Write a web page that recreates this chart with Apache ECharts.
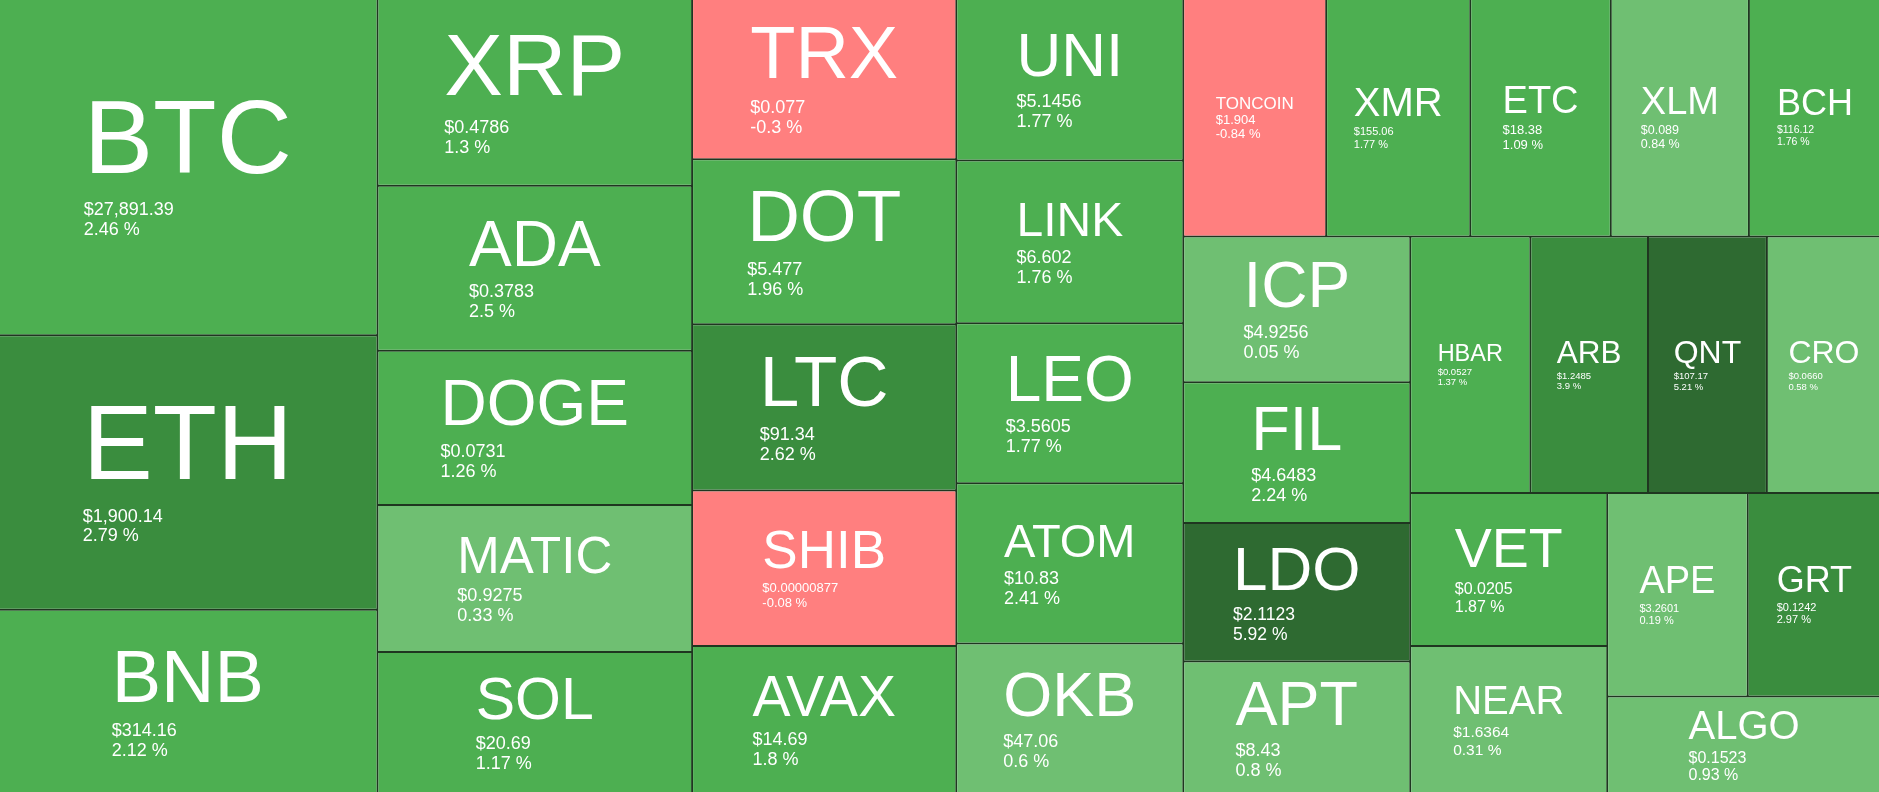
<!DOCTYPE html>
<html>
<head>
<meta charset="utf-8">
<style>
html,body{margin:0;padding:0;background:#fff;overflow:hidden}
#c{width:1879px;height:792px}
</style>
<script src="https://cdn.jsdelivr.net/npm/echarts@6/dist/echarts.min.js"></script>
</head>
<body>
<div id="c"></div>
<script>
// ---- data ----
const symbols = ['BTC','ETH','BNB','XRP','ADA','DOGE','MATIC','SOL','TRX','DOT','LTC','SHIB','AVAX',
  'UNI','LINK','LEO','ATOM','OKB','TONCOIN','XMR','ETC','XLM','BCH','ICP','FIL','LDO','APT',
  'HBAR','ARB','QNT','CRO','VET','NEAR','APE','GRT','ALGO'];
// relative tile weights (estimated from tile areas)
const sizes = [884.8, 720.5, 483.5, 408.7, 358.9, 335.4, 319.6, 309.2, 294.8, 301.4, 303.6, 283.8, 270.6,
  255.2, 255.2, 251.4, 251.4, 236.3, 235.6, 237.6, 231.7, 227.7, 217.8, 228.7, 221.1, 217.4, 207.9,
  213.0, 208.7, 210.9, 202.4, 208.3, 201.7, 197.7, 187.6, 184.7];
const prices = ['27,891.39','1,900.14','314.16','0.4786','0.3783','0.0731','0.9275','20.69','0.077','5.477',
  '91.34','0.00000877','14.69','5.1456','6.602','3.5605','10.83','47.06','1.904','155.06','18.38','0.089',
  '116.12','4.9256','4.6483','2.1123','8.43','0.0527','1.2485','107.17','0.0660','0.0205','1.6364',
  '3.2601','0.1242','0.1523'];
const changes = [2.46, 2.79, 2.12, 1.3, 2.5, 1.26, 0.33, 1.17, -0.3, 1.96, 2.62, -0.08, 1.8,
  1.77, 1.76, 1.77, 2.41, 0.6, -0.84, 1.77, 1.09, 0.84, 1.76, 0.05, 2.24, 5.92, 0.8,
  1.37, 3.9, 5.21, 0.58, 1.87, 0.31, 0.19, 2.97, 0.93];

// ---- styles ----
const FONT = '"Liberation Sans", Arial, Helvetica, sans-serif';
// [symbol font size, price/change font size]
const labelSizes = {
  BTC:[104,18], ETH:[105,18], BNB:[74,18], XRP:[88,18], ADA:[64,18], DOGE:[64,18], MATIC:[51,18],
  SOL:[59,18], TRX:[74,18], DOT:[73,18], LTC:[71,18], SHIB:[53,13], AVAX:[57,18], UNI:[62,18],
  LINK:[48,18], LEO:[64,18], ATOM:[47,18], OKB:[63,18], TONCOIN:[17,13], XMR:[40,11], ETC:[38,13],
  XLM:[38,12.5], BCH:[36,10.5], ICP:[64,18], FIL:[63,18], LDO:[62,17.5], APT:[63,18], HBAR:[23.5,9.5],
  ARB:[31.5,9.5], QNT:[32,9.5], CRO:[32,9.5], VET:[55.5,16], NEAR:[40,15.5], APE:[38,11], GRT:[36,11], ALGO:[40,16]
};
function colorFor(c) {
  if (c < 0) return '#FF7F7F';
  if (c < 1) return '#6FBF72';
  if (c <= 2.5) return '#4DAF51';
  if (c <= 5) return '#3A8D3E';
  return '#2E6A31';
}
const NAME_LH = 1.07, PRICE_LH = 1.11;

const mctx = document.createElement('canvas').getContext('2d');
function textWidth(t, size) {
  mctx.font = 'normal normal ' + size + 'px ' + FONT;
  return mctx.measureText(t).width;
}

function buildData(pads) {
  return symbols.map(function (s, i) {
    const sz = labelSizes[s];
    const nf = sz[0], pf = sz[1];
    const pTxt = '$' + prices[i];
    const cTxt = changes[i] + ' %';
    const nw = textWidth(s, nf);
    const g1 = Math.max(nw - textWidth(pTxt, pf), 0);
    const g2 = Math.max(nw - textWidth(cTxt, pf), 0);
    const label = {
      formatter: '{n|' + s + '}\n{p|' + pTxt + '}{g1| }\n{p|' + cTxt + '}{g2| }',
      rich: {
        n: {fontSize: nf, lineHeight: nf * NAME_LH, fontFamily: FONT, color: '#fff'},
        p: {fontSize: pf, lineHeight: pf * PRICE_LH, fontFamily: FONT, color: '#fff'},
        g1: {width: g1, fontSize: pf, lineHeight: pf * PRICE_LH, fontFamily: FONT},
        g2: {width: g2, fontSize: pf, lineHeight: pf * PRICE_LH, fontFamily: FONT}
      }
    };
    if (pads && pads[s]) label.padding = pads[s];
    return {
      name: s,
      value: sizes[i],
      itemStyle: {color: colorFor(changes[i])},
      label: label
    };
  });
}

const chart = echarts.init(document.getElementById('c'), null, {renderer: 'canvas'});

function makeOption(pads) {
  return {
    animation: false,
    series: [{
      type: 'treemap',
      left: -1, top: -1, width: 1881, height: 794,
      squareRatio: 1.69,
      sort: false,
      roam: false,
      nodeClick: false,
      breadcrumb: {show: false},
      label: {
        show: true, position: 'inside', align: 'center', verticalAlign: 'middle',
        overflow: 'none', color: '#fff', padding: 0, fontFamily: FONT
      },
      itemStyle: {borderWidth: 0, gapWidth: 0},
      levels: [
        {itemStyle: {borderWidth: 0, gapWidth: 2, borderColor: '#1f3620'}},
        {itemStyle: {borderWidth: 0, gapWidth: 0}}
      ],
      data: buildData(pads)
    }]
  };
}

chart.setOption(makeOption(null));

// second pass: centre each label block (cap top .. last baseline) inside its tile,
// using the tile sizes computed by the library's own treemap layout
try {
  const sd = chart.getModel().getSeriesByIndex(0).getData();
  const pads = {};
  for (let i = 0; i < sd.count(); i++) {
    const name = sd.getName(i);
    const lay = sd.getItemLayout(i);
    if (!labelSizes[name] || !lay) continue;
    const F = labelSizes[name][0], P = labelSizes[name][1];
    const hN = F * NAME_LH, hP = P * PRICE_LH;
    const blockH = hN + 2 * hP;
    const visTop = hN / 2 - 0.446 * F;
    const visBottom = hN + 1.5 * hP + 0.27 * P;
    const top = Math.max(lay.height / 2 - (visTop + visBottom) / 2, 0);
    const bottom = Math.max(lay.height - top - blockH - 2, 0);
    pads[name] = [top, 0, bottom, 0];
  }
  chart.setOption(makeOption(pads));
} catch (e) {
  console.error(e);
}
</script>
</body>
</html>
